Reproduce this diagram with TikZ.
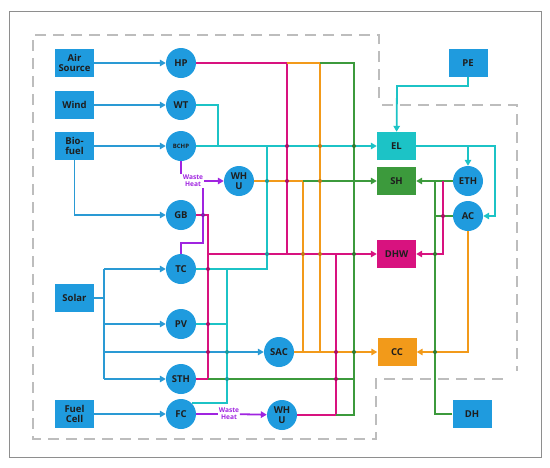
\documentclass[tikz,border=0pt]{standalone}
\usepackage{fontspec}
\setmainfont{Open Sans}
\usepackage{tikz}
\usetikzlibrary{arrows.meta,positioning,calc}
\definecolor{NodeBlue}{HTML}{1F9BDE}
\definecolor{LineBlue}{HTML}{2A9AD4}
\definecolor{ElCyan}{HTML}{1CC3C6}
\definecolor{HeatGreen}{HTML}{3C9A3C}
\definecolor{HotMag}{HTML}{D8127F}
\definecolor{CoolOrange}{HTML}{F29A1A}
\definecolor{WastePurple}{HTML}{A024E0}
\definecolor{DashGray}{HTML}{BDBDBD}
\definecolor{FrameGray}{HTML}{8E8E8E}
\definecolor{InkDark}{HTML}{1E1E1E}

\begin{document}
\begin{tikzpicture}[
    x=1pt, y=-1pt,
    font=\fontsize{9.5}{10.5}\selectfont\bfseries,
    src/.style={rectangle, fill=NodeBlue, text=InkDark, minimum width=39pt, minimum height=28pt, inner sep=0pt, align=center},
    unit/.style={circle, fill=NodeBlue, text=InkDark, minimum size=30pt, inner sep=0pt, align=center},
    load/.style={rectangle, text=InkDark, minimum width=39pt, minimum height=28pt, inner sep=0pt, align=center},
    waste/.style={text=WastePurple, inner sep=0.5pt, align=center, font=\fontsize{6.6}{7}\selectfont\bfseries},
    wire/.style={line width=1.8pt},
    arrow/.style={wire, -{Triangle[length=6pt, width=6.5pt]}},
    hop/.style={circle, inner sep=0pt, minimum size=4pt}
]
\useasboundingbox (0,0) rectangle (550,467);
% frame and system borders
\draw[FrameGray, line width=1pt] (9,11) rectangle (541,457);
\draw[DashGray, line width=1.3pt, dash pattern=on 11pt off 7pt]
    (379,98) -- (379,35) -- (33,35) -- (33,439) -- (376,439) -- (376,379) -- (510,379);
\draw[DashGray, line width=1.3pt, dash pattern=on 11pt off 7pt]
    (382,105) -- (517,105) -- (517,371);

% sources
\node[src] (air) at (74.5,63) {Air\\Source};
\node[src] (wind) at (74.5,105) {Wind};
\node[src] (bio) at (74.5,146) {Bio-\\fuel};
\node[src] (solar) at (74.5,298) {Solar};
\node[src] (fuel) at (74.5,414) {Fuel\\Cell};
\node[src] (pe) at (468,63) {PE};
\node[src] (dh) at (472,414) {DH};

% conversion units
\node[unit] (hp) at (181,63) {HP};
\node[unit] (wt) at (181,105) {WT};
\node[unit, font=\fontsize{6}{6.5}\selectfont\bfseries] (bchp) at (181,146) {BCHP};
\node[unit] (whua) at (239,181) {WH\\U};
\node[unit] (gb) at (181,215) {GB};
\node[unit] (tc) at (181,269) {TC};
\node[unit] (pv) at (181,324) {PV};
\node[unit] (sth) at (181,379) {STH};
\node[unit] (fc) at (181,414) {FC};
\node[unit] (sac) at (279,352) {SAC};
\node[unit] (whub) at (282,415) {WH\\U};
\node[unit] (eth) at (468,181) {ETH};
\node[unit] (ac) at (468,216) {AC};

% loads
\node[load, fill=ElCyan] (el) at (396.5,146) {EL};
\node[load, fill=HeatGreen] (sh) at (396.5,181) {SH};
\node[load, fill=HotMag] (dhw) at (396.5,254) {DHW};
\node[load, fill=CoolOrange] (cc) at (397,352) {CC};

% waste heat labels
\node[waste] (wh1) at (193,181) {Waste\\Heat};
\node[waste] (wh2) at (229,414) {Waste\\Heat};

% bus points
\coordinate (sbus) at (104,298);
\coordinate (wtb) at (218,0);
\coordinate (tcb) at (267,0);
\coordinate (pvb) at (227,0);
\coordinate (gbm) at (208,0);
\coordinate (hpm) at (287,63);
\coordinate (hpo) at (320,63);
\coordinate (hpg) at (354,63);
\coordinate (wo) at (303,0);
\coordinate (whm) at (336,0);
\coordinate (ethm) at (443,0);
\coordinate (dhg) at (435,0);
\coordinate (pej) at (397,86);
\coordinate (elr) at (495,146);
\coordinate (tcp) at (203,243);

% fuel inputs
\draw[arrow, LineBlue] (air) -- (hp);
\draw[arrow, LineBlue] (wind) -- (wt);
\draw[arrow, LineBlue] (bio) -- (bchp);
\draw[arrow, LineBlue] (bio) |- (gb);
\draw[arrow, LineBlue] (fuel) -- (fc);
\draw[wire, LineBlue] (solar) -- (sbus);
\draw[wire, LineBlue] (sbus |- tc) -- (sbus |- sth);
\draw[arrow, LineBlue] (sbus |- tc) -- (tc);
\draw[arrow, LineBlue] (sbus |- pv) -- (pv);
\draw[arrow, LineBlue] (sbus |- sth) -- (sth);

% waste heat
\draw[wire, WastePurple] (bchp) -- (bchp |- wh1.north);
\draw[wire, WastePurple] (tc) |- (tcp) -- (tcp |- wh1.south);
\draw[arrow, WastePurple] (wh1) -- (whua);
\draw[wire, WastePurple] (fc) -- (wh2);
\draw[arrow, WastePurple] (wh2) -- (whub);

% hot water
\draw[wire, HotMag] (gb) -| (gbm |- sth) -- (sth);
\draw[wire, HotMag] (hp) -- (hpm) -- (hpm |- dhw);
\draw[wire, HotMag] (whub) -| (whm |- dhw);

% electricity
\draw[wire, ElCyan] (wt) -| (wtb |- bchp);
\draw[wire, ElCyan] (tc) -| (tcb |- bchp);
\draw[wire, ElCyan] (fc.north east) -| (pvb |- tc);
\draw[wire, ElCyan] (pv) -- (pvb |- pv);
\draw[arrow, ElCyan] (bchp) -- (el);
\draw[arrow, ElCyan] (pe) |- (pej) -- (el);
\draw[arrow, ElCyan] (el) -- (elr) |- (ac);
\draw[arrow, ElCyan] (eth |- el) -- (eth);

% cooling
\draw[wire, CoolOrange] (hpm) -- (hpo) -- (hpo |- cc);
\draw[wire, CoolOrange] (whua) -| (wo |- cc);
\draw[arrow, LineBlue] (sbus |- sac) -- (sac);
\draw[arrow, CoolOrange] (sac) -- (cc);
\draw[arrow, CoolOrange] (ac) |- (cc);

% space heating
\draw[wire, HeatGreen] (hpo) -- (hpg) -- (hpg |- whub) -- (whm |- whub);
\draw[wire, HeatGreen] (gbm |- sth) -- (hpg |- sth);
\draw[arrow, HeatGreen] (wo |- sh) -- (sh);
\draw[arrow, HeatGreen] (eth) -- (sh);
\draw[wire, HeatGreen] (dh) -| (dhg |- sh);
\draw[wire, HeatGreen] (dhg |- ac) -- (ac);
\draw[arrow, HotMag] (gbm |- dhw) -- (dhw);
\draw[arrow, HotMag] (ethm |- eth) |- (dhw);

% crossing marks
\foreach \px/\py/\col in {287/146/HotMag, 320/146/CoolOrange, 354/146/HeatGreen,
    267/181/ElCyan, 287/181/HotMag, 320/181/CoolOrange, 203/215/WastePurple,
    267/254/ElCyan, 303/254/CoolOrange, 320/254/CoolOrange, 354/254/HeatGreen,
    208/269/HotMag, 208/324/HotMag, 208/352/HotMag, 227/352/ElCyan,
    336/352/HotMag, 354/352/HeatGreen, 227/379/ElCyan, 336/379/HotMag,
    443/216/HotMag, 435/254/HeatGreen, 435/352/HeatGreen}
    \node[hop, fill=\col!80!black] at (\px,\py) {};
\end{tikzpicture}
\end{document}
